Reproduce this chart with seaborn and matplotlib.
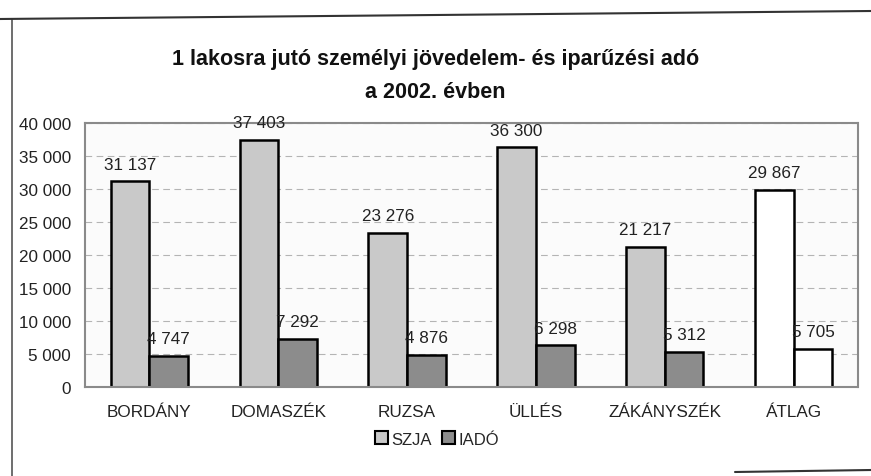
import matplotlib
matplotlib.use("Agg")
import matplotlib.pyplot as plt
from matplotlib.lines import Line2D
from matplotlib.patches import Patch
import numpy as np
import pandas as pd
import seaborn as sns

categories = ["BORDÁNY", "DOMASZÉK", "RUZSA", "ÜLLÉS", "ZÁKÁNYSZÉK", "ÁTLAG"]
szja = [31137, 37403, 23276, 36300, 21217, 29867]
iado = [4747, 7292, 4876, 6298, 5312, 5705]
series = ["SZJA", "IADÓ"]
y_ticks = [0, 5000, 10000, 15000, 20000, 25000, 30000, 35000, 40000]
title = "1 lakosra jutó személyi jövedelem- és iparűzési adó\na 2002. évben"

df = pd.DataFrame({
    "telepules": categories * 2,
    "ado": [series[0]] * len(categories) + [series[1]] * len(categories),
    "ertek": szja + iado,
})

sns.set_theme(style="white")
plt.rcParams["font.family"] = ["Liberation Sans", "DejaVu Sans"]

W, H = 871, 477
fig = plt.figure(figsize=(W / 100, H / 100), dpi=100)
fig.patch.set_facecolor("white")

left, right, top, bottom = 85, 858, 124, 388
ax = fig.add_axes([left / W, 1 - bottom / H, (right - left) / W, (bottom - top) / H])

colors = {"SZJA": "#c9c9c9", "IADÓ": "#8c8c8c"}
sns.barplot(data=df, x="telepules", y="ertek", hue="ado", palette=colors,
            width=0.6, gap=0.0, edgecolor="black", linewidth=1.8,
            legend=False, ax=ax, saturation=1)

# the average group is drawn unfilled
for cont in ax.containers:
    cont[len(categories) - 1].set_facecolor("white")

# value labels above each bar
for cont, vals in zip(ax.containers, [szja, iado]):
    for rect, v in zip(cont, vals):
        ax.text(rect.get_x() + rect.get_width() / 2, v + 1500,
                f"{v:,}".replace(",", " "), ha="center", va="bottom",
                fontsize=12.3, color="#222222")

ax.set_ylim(0, 40000)
ax.set_xlim(-0.5, len(categories) - 0.5)
ax.set_yticks(y_ticks)
ax.set_yticklabels([f"{t:,}".replace(",", " ") for t in y_ticks])
ax.yaxis.grid(True, color="#b4b4b4", linestyle=(0, (6, 4)), linewidth=0.8)
ax.set_axisbelow(True)
ax.set_xlabel("")
ax.set_ylabel("")
ax.tick_params(axis="y", labelsize=12.3, pad=10, length=0, colors="#222222")
ax.tick_params(axis="x", labelsize=12.3, pad=12, length=0, colors="#222222")
for s in ax.spines.values():
    s.set_color("#8a8a8a")
    s.set_linewidth(1.5)
    s.set_linestyle((0, (2, 1)))
ax.set_facecolor("#fbfbfb")

fig.text(0.5, 1 - 76 / H, title, ha="center", va="center", fontsize=15.5,
         fontweight="bold", linespacing=1.75, color="#111111")

handles = [Patch(facecolor=colors[s], edgecolor="black", linewidth=1.5) for s in series]
fig.legend(handles, series, loc="center", bbox_to_anchor=(437 / W, 1 - 440 / H),
           ncol=2, frameon=False, fontsize=12, handlelength=0.8, handleheight=0.8,
           handletextpad=0.2, columnspacing=0.6)

# page frame
fig.add_artist(Line2D([12 / W, 12 / W], [0, 1 - 20 / H], color="#555555", lw=1.2,
                      transform=fig.transFigure))
fig.add_artist(Line2D([0, 1], [1 - 20 / H, 1 - 12 / H], color="#333333", lw=1.5,
                      transform=fig.transFigure))
fig.add_artist(Line2D([735 / W, 1], [1 - 473 / H, 1 - 471 / H], color="#333333", lw=1.5,
                      transform=fig.transFigure))

fig.savefig("out.png", dpi=100)
